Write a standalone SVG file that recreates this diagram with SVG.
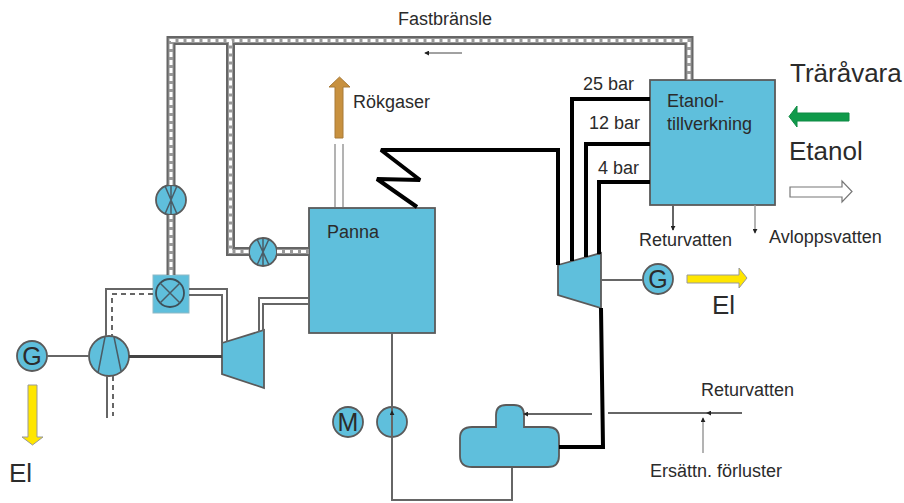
<svg xmlns="http://www.w3.org/2000/svg" width="904" height="503" viewBox="0 0 904 503">
<style>
text{font-family:"Liberation Sans",Arial,sans-serif;fill:#2b2b2b;font-size:18px}
.big{font-size:26px}
.sym{font-size:25px;text-anchor:middle}
.eq{fill:#5fbfdc;stroke:#5a5a5a;stroke-width:1.800}
.in{fill:none;stroke:#4a5c66;stroke-width:1.500}
.fa{fill:none;stroke:#666;stroke-width:9}
.fb{fill:none;stroke:#999;stroke-width:5}
.fc{fill:none;stroke:#fff;stroke-width:3;stroke-dasharray:5 3}
.st{fill:none;stroke:#000;stroke-width:4;stroke-linejoin:miter;stroke-miterlimit:3}
.th{fill:none;stroke:#666;stroke-width:2}
.lt{fill:none;stroke:#9a9a9a;stroke-width:1.500}
.dash{fill:none;stroke:#666;stroke-width:2;stroke-dasharray:5 4}
</style>
<defs>
<marker id="ah" viewBox="0 0 6 6" refX="5" refY="3" markerWidth="5" markerHeight="5" markerUnits="userSpaceOnUse" orient="auto"><path d="M0 0L6 3L0 6z" fill="#222"/></marker>
<path id="fuel" d="M171 275V215M171 185V40.500H689V80M230.500 40.500V251.500H249M277 251.500H309"/>
</defs>

<g id="panna"><rect class="eq" x="309" y="208" width="126" height="125"/><text x="327" y="238">Panna</text></g>
<g id="etanol"><rect class="eq" x="650" y="80" width="125" height="125"/><text x="667" y="107">Etanol-</text><text x="667" y="130">tillverkning</text></g>
<g id="turbine-left"><path class="eq" d="M222 343L264 330V388L222 374z"/></g>
<g id="turbine-right"><path class="eq" d="M558 265L601 253V308L558 295z"/></g>
<g id="compressor"><circle class="eq" cx="109" cy="356" r="20"/><path class="in" d="M98 373L105 337M121 371L114 337"/></g>
<g id="gen-left"><circle class="eq" cx="32" cy="356" r="15"/><text x="32" y="365" class="sym">G</text></g>
<g id="gen-right"><circle class="eq" cx="658" cy="279" r="15"/><text x="658" y="288" class="sym">G</text></g>
<g id="motor"><circle class="eq" cx="348" cy="422" r="15"/><text x="348" y="431" class="sym">M</text></g>
<g id="pump"><circle class="eq" cx="392" cy="422" r="15"/></g>
<g id="valve-top"><circle class="eq" cx="171" cy="200" r="15"/><path class="in" d="M165 186L177 214M177 186L165 214M171 186V214"/></g>
<g id="valve-right"><circle class="eq" cx="263" cy="252" r="14"/><path class="in" d="M257 239L269 265M269 239L257 265M263 239V265"/></g>
<g id="mixer"><rect x="153" y="275" width="36" height="38" fill="#5fbfdc" stroke="#8fb9c6"/><circle cx="170" cy="293" r="14" fill="none" stroke="#3d4f58" stroke-width="1.800"/><path class="in" d="M160 283L180 303M180 283L160 303"/></g>
<g id="drum"><path class="eq" d="M472 427H496V415Q496 405 506 405H514Q524 405 524 415V427H548Q559 427 559 438V456Q559 467 548 467H472Q460 467 460 456V438Q460 427 472 427z"/></g>

<g id="connectors">
<use href="#fuel" class="fa"/><use href="#fuel" class="fb"/><use href="#fuel" class="fc"/>
<path class="st" d="M650 99H572V261M650 144H586V257M650 182H599V254M417 207L377 179L420 180L381 150H558V265M601 308L603 447H559"/>
<path class="th" d="M153 289H106V336M189 289H227V342M189 295H222V343M309 298H259V332M309 304H263V331M107 376V418M47 356H89M601 280H643"/>
<path class="dash" d="M153 294H112V336M113 376V416"/>
<path d="M129 356.500H222" fill="none" stroke="#444" stroke-width="3"/>
<path class="lt" d="M335 144V207M343 144V207"/>
<path class="th" d="M392 333V500H512V468"/>
<path class="th" d="M392 422V411" marker-end="url(#ah)"/>
<path class="th" d="M592 414H524" marker-end="url(#ah)"/>
<path class="th" d="M742 413H608"/>
<path class="th" d="M742 413H707" marker-end="url(#ah)"/>
<path class="lt" d="M703 453V418" marker-end="url(#ah)"/>
<path d="M462 53H425" fill="none" stroke="#444" stroke-width="1" marker-end="url(#ah)"/>
<path class="th" d="M673 205V230" marker-end="url(#ah)"/>
<path class="lt" d="M755 205V233" marker-end="url(#ah)"/>
</g>

<g id="arrow-rokgaser"><path d="M335 138V87H329L339.500 77L350 87H343V138z" fill="#c8913f" stroke="#a87a38"/></g>
<g id="arrow-el-left"><path d="M28 385H37V437H43L32.500 445L22 437H28z" fill="#ffe600" stroke="#999"/></g>
<g id="arrow-el-right"><path d="M687 275H739V268L747 278L739 288V283H687z" fill="#ffe600" stroke="#999"/></g>
<g id="arrow-wood"><path d="M849 113V121H797V127L789 116.500L797 106V113z" fill="#0f9a4a" stroke="#0f8a44"/></g>
<g id="arrow-etanol"><path d="M790 187H842V181L852 191.500L842 202V197H790z" fill="#fff" stroke="#777" stroke-width="1.200"/></g>

<g id="labels">
<text x="398" y="25">Fastbränsle</text>
<text x="353" y="108">Rökgaser</text>
<text x="583" y="90">25 bar</text>
<text x="589" y="129">12 bar</text>
<text x="598" y="174">4 bar</text>
<text x="639" y="246">Returvatten</text>
<text x="769" y="243">Avloppsvatten</text>
<text x="701" y="396">Returvatten</text>
<text x="650" y="477">Ersättn. förluster</text>
<text x="790" y="82" class="big">Träråvara</text>
<text x="789" y="160" class="big">Etanol</text>
<text x="712" y="314" class="big">El</text>
<text x="9" y="482" class="big">El</text>
</g>
</svg>
